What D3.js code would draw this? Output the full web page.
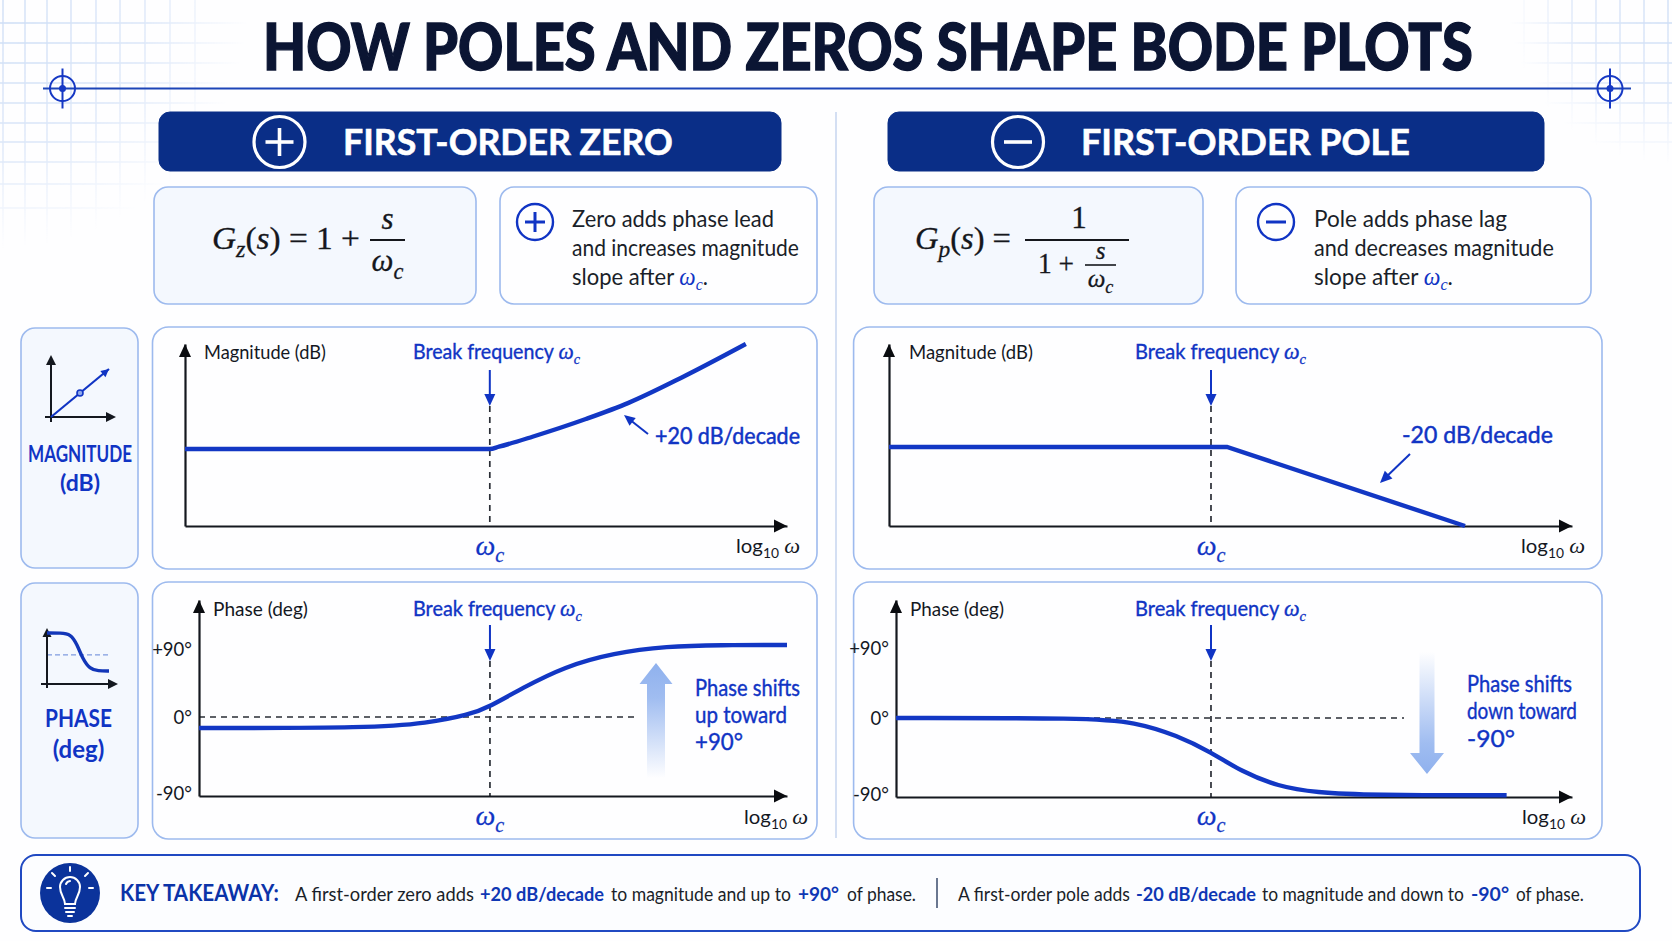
<!DOCTYPE html>
<html>
<head>
<meta charset="utf-8">
<script src="https://d3js.org/d3.v7.min.js"></script>
<style>
  html, body { margin: 0; padding: 0; background: #fff; overflow: hidden; }
  svg { display: block; }
</style>
</head>
<body>
<div id="chart"></div>
<script>
// values: x in decades from the break frequency
const zeroMagDecades = [-2, -1, 0, 0.06, 0.28, 0.63, 0.91, 1.26, 1.68];
const zeroMagDb = [0, 0, 0, 0.6, 3.2, 7.8, 12, 18.6, 27.3];
const poleMagDecades = [-2.113, 0.105, 1.667];
const poleMagDb = [0, 0, -20];
const zeroPhaseDecades = [-1.91, -0.77, -0.415, -0.14, 0, 0.21, 0.49, 0.81, 1.16, 1.51, 1.95];
const zeroPhaseDeg = [-12.5, -12.5, -7, 2.5, 13, 36, 63, 80, 88.5, 90, 90];
const polePhaseDecades = [-2.067, -0.81, -0.5, -0.22, 0, 0.2, 0.44, 0.69, 1.04, 1.94];
const polePhaseDeg = [0, 0, -4.5, -20, -39, -61, -78, -85, -88, -88];
const phaseTicks = [-90, 0, 90];
const phaseTickLabels = ['-90°', '0°', '+90°'];

const miniMagX = [0, 1, 2];
const miniMagY = [0, 1, 2];
const miniPhaseX = [0, 1.5, 2.6, 3.3, 3.9, 4.7, 5.6, 6.8];
const miniPhaseY = [1, 1, 0.95, 0.4, -0.35, -0.9, -1, -1];

const titleText = 'HOW POLES AND ZEROS SHAPE BODE PLOTS';
const zeroNote = ['Zero adds phase lead', 'and increases magnitude', 'slope after '];
const poleNote = ['Pole adds phase lag', 'and decreases magnitude', 'slope after '];
const zeroShift = ['Phase shifts', 'up toward', '+90°'];
const poleShift = ['Phase shifts', 'down toward', '-90°'];
const takeaway = [
  'A first-order zero adds', '+20 dB/decade', 'to magnitude and up to', '+90°', 'of phase.',
  'A first-order pole adds', '-20 dB/decade', 'to magnitude and down to', '-90°', 'of phase.'
];

const W = 1672, H = 941;
const BODY = 'Lato, "Noto Sans", sans-serif';
const SERIF = '"Liberation Serif", serif';
const INK = '#14181f', BLUE = '#1034c4', NAVY = '#0a2e87', EDGE = '#9dbaee', PALE = '#f4f8fe';

const svg = d3.select('#chart').append('svg').attr('width', W).attr('height', H);
const defs = svg.append('defs');

svg.append('rect').attr('width', W).attr('height', H).attr('fill', '#fefeff');

// text helper: parts are plain strings or [string, kind], width squeezes it to the measured size
function addText(parent, x, y, parts, o) {
  o = o || {};
  const t = parent.append('text')
    .attr('font-family', o.font || BODY)
    .attr('font-size', o.size)
    .attr('font-weight', o.weight || 400)
    .attr('fill', o.color || INK)
    .attr('text-anchor', o.anchor || 'start');
  if (o.thick) t.attr('stroke', o.color || INK).attr('stroke-width', o.thick);
  const size = o.size;
  let shift = 0;
  (Array.isArray(parts) ? parts : [parts]).forEach((p) => {
    const [str, kind] = Array.isArray(p) ? p : [p, ''];
    const s = t.append('tspan').text(str);
    let dy = -shift;
    shift = 0;
    if (kind === 'i') s.attr('font-family', SERIF).attr('font-style', 'italic').attr('font-size', (o.mathScale || 1.1) * size);
    if (kind === 'sub') {
      shift = size * 0.25;
      dy += shift;
      s.attr('font-family', SERIF).attr('font-style', 'italic').attr('font-size', size * 0.72);
    }
    if (kind === 'subn') {
      shift = size * 0.25;
      dy += shift;
      s.attr('font-size', size * 0.68);
    }
    if (kind === 'col') s.attr('fill', o.accent).attr('font-family', SERIF).attr('font-style', 'italic').attr('font-size', size * 1.05);
    if (kind === 'colsub') {
      shift = size * 0.22;
      dy += shift;
      s.attr('fill', o.accent).attr('font-family', SERIF).attr('font-style', 'italic').attr('font-size', size * 0.72);
    }
    if (dy) s.attr('dy', dy);
  });
  let sx = 1;
  if (o.width) sx = o.width / t.node().getComputedTextLength();
  t.attr('transform', `translate(${x},${y}) scale(${sx},1)`);
  return t;
}

function box(x0, x1, y0, y1, r, fill, stroke, sw) {
  svg.append('rect').attr('x', x0).attr('y', y0).attr('width', x1 - x0).attr('height', y1 - y0)
    .attr('rx', r).attr('fill', fill).attr('stroke', stroke || EDGE).attr('stroke-width', sw || 1.6);
}

// decor grids in the top corners, faded with a radial mask
function cornerGrid(id, cx, xs, ys, radius) {
  const grad = defs.append('radialGradient').attr('id', id + 'G').attr('gradientUnits', 'userSpaceOnUse')
    .attr('cx', cx).attr('cy', 0).attr('r', radius);
  grad.append('stop').attr('offset', 0).attr('stop-color', '#fff').attr('stop-opacity', 0.9);
  grad.append('stop').attr('offset', 0.6).attr('stop-color', '#fff').attr('stop-opacity', 0.6);
  grad.append('stop').attr('offset', 1).attr('stop-color', '#fff').attr('stop-opacity', 0);
  defs.append('mask').attr('id', id).attr('maskUnits', 'userSpaceOnUse')
    .attr('x', 0).attr('y', 0).attr('width', W).attr('height', H)
    .append('rect').attr('width', W).attr('height', H).attr('fill', `url(#${id}G)`);
  const g = svg.append('g').attr('mask', `url(#${id})`).attr('stroke', '#c6d8f5').attr('stroke-width', 1.3);
  xs.forEach((x) => g.append('line').attr('x1', x).attr('x2', x).attr('y1', 0).attr('y2', radius));
  ys.forEach((y) => g.append('line').attr('x1', Math.max(0, cx - radius)).attr('x2', Math.min(W, cx + radius)).attr('y1', y).attr('y2', y));
}
const gridYs = [23, 43, 63, 83, 103, 123, 142, 162, 184, 208];
cornerGrid('gridL', 0, [3, 25, 47, 71, 96, 120, 145, 170, 195], gridYs, 250);
cornerGrid('gridR', W, [1524, 1548, 1572, 1596, 1620, 1644, 1668], gridYs.slice(0, 7), 165);

// title and its rule
addText(svg, 263, 70, titleText, { size: 64, weight: 900, color: '#0b1533', width: 1210, thick: 1.4 });
svg.append('line').attr('x1', 43).attr('x2', 1631).attr('y1', 88.5).attr('y2', 88.5).attr('stroke', '#1d45b8').attr('stroke-width', 2);
[62.5, 1610].forEach((x) => {
  const g = svg.append('g').attr('transform', `translate(${x},88.5)`).attr('fill', 'none').attr('stroke', '#1638c4').attr('stroke-width', 2);
  g.append('circle').attr('r', 12.5);
  g.append('line').attr('y1', -20).attr('y2', 20);
  g.append('circle').attr('r', 3.5).attr('fill', '#1638c4').attr('stroke', 'none');
});

// centre divider
svg.append('line').attr('x1', 836).attr('x2', 836).attr('y1', 112).attr('y2', 838).attr('stroke', '#c6d5ef').attr('stroke-width', 1.5);

// header bars
function signGlyph(g, r, sw, color, plus) {
  g.append('line').attr('x1', -r).attr('x2', r).attr('stroke', color).attr('stroke-width', sw);
  if (plus) g.append('line').attr('y1', -r).attr('y2', r).attr('stroke', color).attr('stroke-width', sw);
}
function header(x0, x1, cx, tx, tw, str, plus) {
  box(x0, x1, 112, 171, 11, NAVY, NAVY, 1);
  const g = svg.append('g').attr('transform', `translate(${cx},142)`);
  g.append('circle').attr('r', 25.5).attr('fill', 'none').attr('stroke', '#fff').attr('stroke-width', 3.2);
  signGlyph(g, 14, 3.6, '#fff', plus);
  addText(svg, tx, 155, str, { size: 37, weight: 700, color: '#fff', width: tw, thick: 0.6 });
}
header(159, 781, 279.5, 343, 330, 'FIRST-ORDER ZERO', true);
header(888, 1544, 1018, 1081, 329, 'FIRST-ORDER POLE', false);

// formula boxes
box(154, 476, 187, 304, 14, PALE);
box(874, 1203, 187, 304, 14, PALE);
const mathOpt = { font: SERIF, size: 31, color: '#15171c', thick: 0.3 };
function bar(x0, x1, y, sw) {
  svg.append('line').attr('x1', x0).attr('x2', x1).attr('y1', y).attr('y2', y).attr('stroke', '#15171c').attr('stroke-width', sw);
}
const ital = (s) => [s, 'i'];
addText(svg, 212, 249, [ital('G'), ['z', 'sub'], '(', ital('s'), ') = 1 + '], { ...mathOpt, mathScale: 1, width: 148 });
bar(370, 405, 240, 2);
addText(svg, 387.5, 229, [ital('s')], { ...mathOpt, mathScale: 1, anchor: 'middle' });
addText(svg, 387.5, 271, [ital('ω'), ['c', 'sub']], { ...mathOpt, mathScale: 1, anchor: 'middle' });

addText(svg, 915, 249, [ital('G'), ['p', 'sub'], '(', ital('s'), ') ='], { ...mathOpt, mathScale: 1, width: 96 });
bar(1025, 1129, 240, 2);
addText(svg, 1079, 228, '1', { ...mathOpt, anchor: 'middle' });
addText(svg, 1038, 273, '1 +', { ...mathOpt, size: 30, width: 36 });
bar(1085, 1116, 265, 1.6);
addText(svg, 1100.5, 259, [ital('s')], { ...mathOpt, size: 25, mathScale: 1, anchor: 'middle' });
addText(svg, 1100.5, 287, [ital('ω'), ['c', 'sub']], { ...mathOpt, size: 25, mathScale: 1, anchor: 'middle' });

// note boxes
function note(x0, x1, cx, tx, lines, widths, plus) {
  box(x0, x1, 187, 304, 14, '#fefeff');
  const g = svg.append('g').attr('transform', `translate(${cx},222)`);
  g.append('circle').attr('r', 18).attr('fill', 'none').attr('stroke', BLUE).attr('stroke-width', 2.4);
  signGlyph(g, 10, 3, BLUE, plus);
  addText(svg, tx, 227, lines[0], { size: 24, color: '#1a1f29', width: widths[0] });
  addText(svg, tx, 256, lines[1], { size: 24, color: '#1a1f29', width: widths[1] });
  addText(svg, tx, 285, [lines[2], ['ω', 'col'], ['c', 'colsub'], '.'], { size: 24, color: '#1a1f29', accent: BLUE, width: widths[2] });
}
note(500, 817, 535, 572, zeroNote, [202, 227, 136], true);
note(1236, 1591, 1276, 1314, poleNote, [193, 240, 139], false);

// left row labels
box(21, 138, 328, 568, 14, PALE);
box(21, 138, 583, 838, 14, PALE);
addText(svg, 80, 462, 'MAGNITUDE', { size: 22, weight: 700, color: BLUE, anchor: 'middle', width: 104 });
addText(svg, 80, 491, '(dB)', { size: 23, weight: 700, color: BLUE, anchor: 'middle' });
addText(svg, 78.5, 727, 'PHASE', { size: 24, weight: 700, color: BLUE, anchor: 'middle', width: 67 });
addText(svg, 78.5, 758, '(deg)', { size: 24, weight: 700, color: BLUE, anchor: 'middle' });

function arrowHead(parent, x, y, dir, len, half, color) {
  // tip at x,y; dir is the pointing direction in degrees (0 = right)
  parent.append('path').attr('d', `M0,0L${-len},${-half}L${-len},${half}Z`)
    .attr('transform', `translate(${x},${y}) rotate(${dir})`).attr('fill', color);
}
function arrow(parent, x0, y0, x1, y1, sw, len, half, color) {
  const a = Math.atan2(y1 - y0, x1 - x0);
  parent.append('line').attr('x1', x0).attr('y1', y0)
    .attr('x2', x1 - Math.cos(a) * len * 0.8).attr('y2', y1 - Math.sin(a) * len * 0.8)
    .attr('stroke', color).attr('stroke-width', sw);
  arrowHead(parent, x1, y1, a * 180 / Math.PI, len, half, color);
}

// mini icons in the row labels
const miniMag = svg.append('g');
arrow(miniMag, 51, 422, 51, 355, 2, 10, 5, INK);
arrow(miniMag, 45, 417, 116, 417, 2, 10, 5, INK);
const mmx = d3.scaleLinear().domain([0, 2]).range([51, 109]);
const mmy = d3.scaleLinear().domain([0, 2]).range([417, 369]);
miniMag.append('path').attr('d', d3.line().x((d) => mmx(d)).y((d, i) => mmy(miniMagY[i]))(miniMagX))
  .attr('fill', 'none').attr('stroke', BLUE).attr('stroke-width', 2.2);
arrowHead(miniMag, mmx(2), mmy(2), -40, 8, 4, BLUE);
miniMag.append('circle').attr('cx', mmx(1)).attr('cy', mmy(1)).attr('r', 3).attr('fill', '#8fa8ea').attr('stroke', BLUE).attr('stroke-width', 1.6);

const miniPhase = svg.append('g');
const mpx = d3.scaleLinear().domain([0, 6.8]).range([47, 109]);
const mpy = d3.scaleLinear().domain([-1, 1]).range([671, 633]);
miniPhase.append('line').attr('x1', mpx(0)).attr('x2', mpx(6.8)).attr('y1', mpy(-0.15)).attr('y2', mpy(-0.15))
  .attr('stroke', '#7f9be0').attr('stroke-width', 1.2).attr('stroke-dasharray', '5 3');
arrow(miniPhase, 47, 688, 47, 628, 2, 9, 4.5, INK);
arrow(miniPhase, 41, 684, 118, 684, 2, 10, 5, INK);
miniPhase.append('path')
  .attr('d', d3.line().x((d) => mpx(d)).y((d, i) => mpy(miniPhaseY[i])).curve(d3.curveBasis)(miniPhaseX))
  .attr('fill', 'none').attr('stroke', '#1236b8').attr('stroke-width', 3.4);

// one bode panel
function panel(c) {
  box(c.box[0], c.box[1], c.box[2], c.box[3], 16, '#fefeff');
  const g = svg.append('g');
  const x = d3.scaleLinear().domain(c.xDomain).range(c.xRange);
  const y = d3.scaleLinear().domain(c.yDomain).range(c.yRange);
  const x0 = c.xRange[0], yBase = c.yRange[0], yTop = c.yRange[c.yRange.length - 1];
  const xc = x(0);

  // guides under the curve
  const guides = g.append('g').attr('fill', 'none').attr('stroke', '#2a2e36').attr('stroke-width', 1.7).attr('stroke-dasharray', '6 5');
  guides.append('line').attr('x1', xc).attr('x2', xc).attr('y1', c.breakTip).attr('y2', yBase);
  if (c.zeroGuideEnd) {
    guides.append('line').attr('x1', x0).attr('x2', c.zeroGuideEnd).attr('y1', y(0)).attr('y2', y(0));
  }

  // axes
  const ax = g.append('g').attr('transform', `translate(0,${yBase})`)
    .call(d3.axisBottom(x).tickValues([]).tickSize(0));
  ax.select('.domain').attr('stroke', INK).attr('stroke-width', 2.2);
  arrowHead(g, c.xRange[1], yBase, 0, 13, 6.5, '#0a0c10');

  const ay = g.append('g').attr('transform', `translate(${x0},0)`)
    .call(d3.axisLeft(y).tickValues(c.ticks || []).tickSize(0).tickPadding(7)
      .tickFormat((d, i) => (c.tickLabels ? c.tickLabels[i] : '')));
  ay.select('.domain').attr('stroke', INK).attr('stroke-width', 2.2);
  ay.selectAll('text').attr('font-family', BODY).attr('font-size', 18.5).attr('fill', INK)
    .attr('dy', '0.35em')
    .attr('transform', (d, i) => (c.tickNudge ? `translate(0,${c.tickNudge[i]})` : null));
  arrowHead(g, x0, yTop, -90, 13, 6, '#0a0c10');

  // the curve
  const line = d3.line().x((d) => x(d)).y((d, i) => y(c.values[i])).curve(c.curve);
  g.append('path').attr('d', line(c.decades)).attr('fill', 'none').attr('stroke', '#1237c4').attr('stroke-width', 4.4).attr('stroke-linecap', 'butt');

  // break frequency marker
  arrow(g, xc, c.breakTip - 36, xc, c.breakTip, 2, 12, 5.5, BLUE);
  addText(g, c.breakX, c.labelY, ['Break frequency ', ['ω', 'i'], ['c', 'sub']], { size: 20.5, weight: 400, color: BLUE, width: c.breakW, thick: 0.35 });
  addText(g, c.nameX, c.labelY, c.name, { size: 19.5, color: INK, width: c.nameW });
  addText(g, xc, c.wcY, [['ω', 'i'], ['c', 'sub']], { font: SERIF, size: 28, color: BLUE, mathScale: 1, anchor: 'middle', thick: 0.3 });
  addText(g, c.logX, c.logY, ['log', ['10', 'subn'], ' ', ['ω', 'i']], { size: 19.5, color: INK, width: 64 });
  return g;
}

const magZero = panel({
  box: [152.5, 817, 327, 569], xDomain: [-2, 1.95], xRange: [185, 787], yDomain: [-20, 27.3], yRange: [526, 344],
  decades: zeroMagDecades, values: zeroMagDb, curve: d3.curveMonotoneX, breakTip: 406, labelY: 359, breakX: 413, breakW: 167,
  name: 'Magnitude (dB)', nameX: 204, nameW: 122, wcY: 555, logX: 736, logY: 553
});
arrow(magZero, 648, 434, 624, 415, 2, 11, 5, BLUE);
addText(magZero, 655, 444, '+20 dB/decade', { size: 23, color: BLUE, width: 145, thick: 0.5 });

const magPole = panel({
  box: [853.6, 1602, 327, 569], xDomain: [-2.113, 2.369], xRange: [889, 1572], yDomain: [-20, 26.08], yRange: [526, 344],
  decades: poleMagDecades, values: poleMagDb, curve: d3.curveLinear, breakTip: 406, labelY: 359, breakX: 1135, breakW: 171,
  name: 'Magnitude (dB)', nameX: 909, nameW: 124, wcY: 555, logX: 1521, logY: 553
});
arrow(magPole, 1410, 454, 1380, 483, 2, 12, 5.5, BLUE);
addText(magPole, 1402, 443, '-20 dB/decade', { size: 24, color: BLUE, width: 151, thick: 0.5 });

const phZero = panel({
  box: [152.5, 817, 582, 839], xDomain: [-1.91, 1.95], xRange: [199, 787], yDomain: [-90, 0, 90, 125], yRange: [796, 717, 645, 600],
  decades: zeroPhaseDecades, values: zeroPhaseDeg, curve: d3.curveBasis, breakTip: 661, labelY: 616, breakX: 413, breakW: 169,
  name: 'Phase (deg)', nameX: 213, nameW: 95, wcY: 825, logX: 744, logY: 824,
  ticks: phaseTicks, tickLabels: phaseTickLabels, tickNudge: [-3, 0, 4], zeroGuideEnd: 635
});
const phPole = panel({
  box: [853.6, 1602, 582, 839], xDomain: [-2.067, 2.369], xRange: [896, 1572], yDomain: [-90, 0, 90, 125], yRange: [797, 718, 648, 600],
  decades: polePhaseDecades, values: polePhaseDeg, curve: d3.curveBasis, breakTip: 661, labelY: 616, breakX: 1135, breakW: 171,
  name: 'Phase (deg)', nameX: 910, nameW: 94, wcY: 825, logX: 1522, logY: 824,
  ticks: phaseTicks, tickLabels: phaseTickLabels, tickNudge: [-3, 0, 0], zeroGuideEnd: 1404
});

// fading block arrows
function blockArrow(parent, id, cx, tail, base, tip, headHalf, shaftHalf, up) {
  const grad = defs.append('linearGradient').attr('id', id).attr('gradientUnits', 'userSpaceOnUse')
    .attr('x1', 0).attr('x2', 0).attr('y1', tail).attr('y2', tip);
  grad.append('stop').attr('offset', 0).attr('stop-color', '#8fb1ee').attr('stop-opacity', 0);
  grad.append('stop').attr('offset', up ? 0.7 : 0.75).attr('stop-color', '#8fb1ee').attr('stop-opacity', 0.85);
  grad.append('stop').attr('offset', 1).attr('stop-color', '#8fb1ee').attr('stop-opacity', 1);
  parent.append('path').attr('fill', `url(#${id})`).attr('d',
    `M${cx - shaftHalf},${tail}L${cx - shaftHalf},${base}L${cx - headHalf},${base}L${cx},${tip}L${cx + headHalf},${base}L${cx + shaftHalf},${base}L${cx + shaftHalf},${tail}Z`);
}
blockArrow(phZero, 'fadeUp', 656, 778, 684, 663, 16.5, 9, true);
blockArrow(phPole, 'fadeDown', 1427, 652, 753, 774, 17, 7.5, false);
[[zeroShift, 695, [696, 723, 750], [105, 92, 48]], [poleShift, 1467, [692, 719, 747], [105, 110, 48]]].forEach(([lines, x, ys, ws]) => {
  lines.forEach((s, i) => addText(svg, x, ys[i], s, { size: 23, color: BLUE, width: ws[i], thick: 0.4 }));
});

// key takeaway strip
box(21, 1640, 855, 931, 15, '#fcfdff', '#2049c2', 2);
const bulb = svg.append('g').attr('transform', 'translate(70,893)');
bulb.append('circle').attr('r', 30).attr('fill', '#0b339b');
const bulbInk = bulb.append('g').attr('fill', 'none').attr('stroke', '#fff').attr('stroke-width', 2).attr('stroke-linecap', 'round');
bulbInk.append('path').attr('d', 'M-5,11C-5,5,-10,2,-10,-6A10,10,0,1,1,10,-6C10,2,5,5,5,11Z');
bulbInk.append('path').attr('d', 'M-5,15H5M-4,19H4M-2,23H2');
bulbInk.append('path').attr('d', 'M0,-22V-26M-15,-17L-18,-20M15,-17L18,-20M-19,-5H-23M19,-5H23');
bulbInk.append('path').attr('d', 'M-4,-9A5,5,0,0,1,0,-12');

addText(svg, 120, 901, 'KEY TAKEAWAY:', { size: 23, weight: 700, color: '#0b33a8', width: 159 });
const segX = [295, 480, 611, 798, 847, 958, 1136, 1262, 1471, 1516];
const segW = [179, 124, 180, 41, 69, 172, 120, 202, 38, 68];
takeaway.forEach((s, i) => {
  const strong = i % 5 === 1 || i % 5 === 3;
  addText(svg, segX[i], 901, s, { size: 19.5, weight: strong ? 700 : 400, color: strong ? '#0f37b4' : '#1a1f29', width: segW[i] });
});
svg.append('line').attr('x1', 937).attr('x2', 937).attr('y1', 878).attr('y2', 908).attr('stroke', '#3a4a6b').attr('stroke-width', 1.5);
</script>
</body>
</html>
